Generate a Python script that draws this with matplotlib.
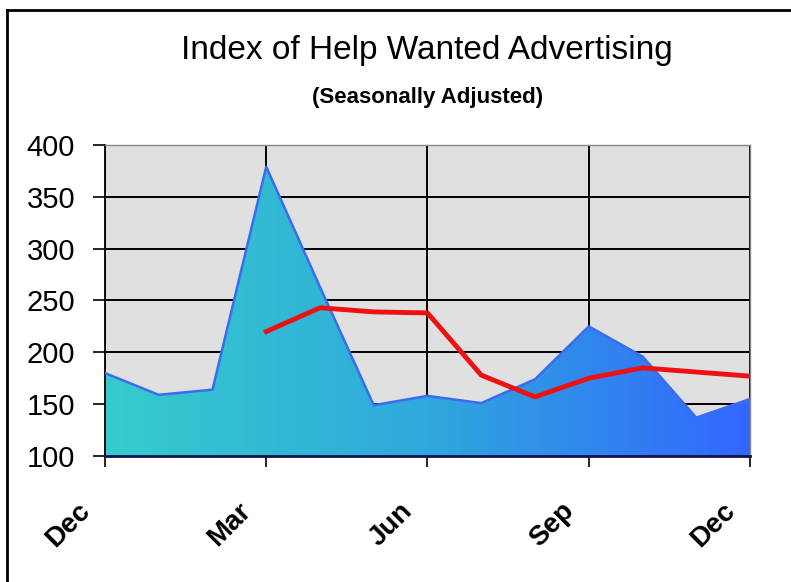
import numpy as np
import matplotlib
matplotlib.use("Agg")
from matplotlib import pyplot as plt
from matplotlib.colors import LinearSegmentedColormap
from matplotlib.lines import Line2D
from matplotlib.transforms import ScaledTranslation

months = ['Dec', 'Jan', 'Feb', 'Mar', 'Apr', 'May', 'Jun',
          'Jul', 'Aug', 'Sep', 'Oct', 'Nov', 'Dec']
index_values = [180, 159, 164, 379, 263, 149, 158, 151, 174, 225, 196, 137, 155]
avg_months = months[3:]
avg_values = [220, 243, 239, 238, 178, 157, 175, 185, 181, 177]
tick_labels = ['Dec', 'Mar', 'Jun', 'Sep', 'Dec']
y_ticks = [100, 150, 200, 250, 300, 350, 400]

plt.rcParams['font.family'] = ['Liberation Sans', 'DejaVu Sans']

fig = plt.figure(figsize=(7.91, 5.82), dpi=100)
ax = fig.add_axes([0.1327, 0.2165, 0.8155, 0.5344])
ax.set_facecolor('#e0e0e0')

x = np.arange(len(months))
x_avg = np.arange(3, 3 + len(avg_values))

# gradient filled area
poly = ax.fill_between(x, index_values, 100, color='none', linewidth=0)
cmap = LinearSegmentedColormap.from_list('tb', ['#36cccc', '#2fa8dc', '#3366ff'])
grad = np.linspace(0, 1, 256).reshape(1, -1)
img = ax.imshow(grad, cmap=cmap, aspect='auto', extent=[0, 12, 100, 400],
                origin='lower', zorder=2)
img.set_clip_path(poly.get_paths()[0], transform=ax.transData)
ax.plot(x, index_values, color='#3a6cf0', linewidth=1.8, zorder=3)

ax.plot(x_avg, avg_values, color='#ee1111', linewidth=3.5, zorder=4,
        solid_joinstyle='round')

ax.set_xlim(0, 12)
ax.set_ylim(100, 400)
ax.set_xticks([0, 3, 6, 9, 12])
ax.set_xticklabels(tick_labels, rotation=45, ha='right', va='top',
                   rotation_mode='anchor', fontsize=20, fontweight='bold')
ax.set_yticks(y_ticks)
ax.set_yticklabels([str(v) for v in y_ticks], fontsize=21)
ax.tick_params(axis='x', length=8, width=1.2, pad=22, color='black')
ax.tick_params(axis='y', length=8.5, width=1.2, pad=13, color='black')
shift = ScaledTranslation(-0.28, 0, fig.dpi_scale_trans)
for lab in ax.get_xticklabels():
    lab.set_transform(lab.get_transform() + shift)

ax.grid(True, color='black', linewidth=1.4, zorder=1)
ax.set_axisbelow(True)
for side in ['top', 'right']:
    ax.spines[side].set_color('#888888')
    ax.spines[side].set_linewidth(1)
ax.spines['left'].set_color('black')
ax.spines['left'].set_linewidth(1.3)
ax.spines['bottom'].set_color('#101050')
ax.spines['bottom'].set_linewidth(2)
ax.spines['bottom'].set_zorder(5)

fig.text(0.54, 0.914, 'Index of Help Wanted Advertising', ha='center',
         va='center', fontsize=24)
fig.text(0.54, 0.833, '(Seasonally Adjusted)', ha='center', va='center',
         fontsize=16, fontweight='bold')

# picture frame
fig.add_artist(Line2D([0.009, 1.0], [0.983, 0.983], color='black', linewidth=2,
                      transform=fig.transFigure))
fig.add_artist(Line2D([0.009, 0.009], [0.0, 0.983], color='black', linewidth=2,
                      transform=fig.transFigure))

plt.savefig('out.png', dpi=100)
